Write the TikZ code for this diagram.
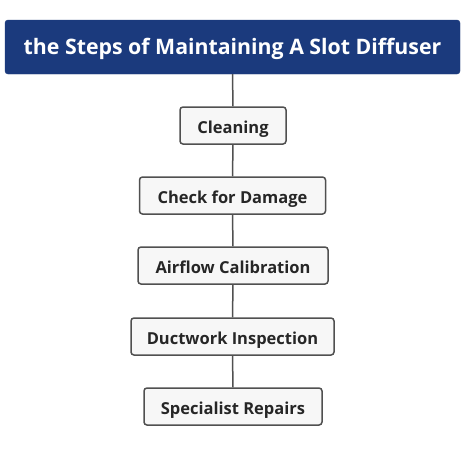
\documentclass[tikz,border=0pt]{standalone}
\usepackage{fontspec}
\setmainfont{Open Sans}[BoldFont={* Bold}]
\definecolor{titleblue}{HTML}{1B3A7D}
\definecolor{boxfill}{HTML}{F7F7F7}
\definecolor{boxline}{HTML}{505050}
\begin{document}
\begin{tikzpicture}[x=1pt,y=-1pt,
  stepbox/.style={draw=boxline, line width=1.5pt, fill=boxfill, rounded corners=3pt,
    minimum height=37pt, inner sep=0pt, text height=15pt, text depth=0pt,
    font=\fontsize{16.5}{18}\selectfont\bfseries, text=black!85},
  titlebox/.style={fill=titleblue, draw=titleblue, rounded corners=3pt, minimum width=455pt,
    minimum height=54pt, inner sep=0pt, text height=14.6pt, text depth=0pt,
    font=\fontsize{21.3}{23}\selectfont\bfseries, text=white},
  link/.style={draw=boxline, line width=1.5pt}]
\useasboundingbox (0,0) rectangle (474,459);
\fill[white] (0,0) rectangle (474,459);
\node[titlebox] (t) at (232.5,47) {the Steps of Maintaining A Slot Diffuser};
\node[stepbox, minimum width=106pt] (s1) at (233,125.5) {Cleaning};
\node[stepbox, minimum width=186pt] (s2) at (232.5,195.5) {Check for Damage};
\node[stepbox, minimum width=190pt] (s3) at (233,265.5) {Airflow Calibration};
\node[stepbox, minimum width=203pt] (s4) at (232.5,336.5) {Ductwork Inspection};
\node[stepbox, minimum width=178pt] (s5) at (233,406.5) {Specialist Repairs};
\draw[link] (t.south) -- (s1.north);
\draw[link] (s1.south) -- (s2.north);
\draw[link] (s2.south) -- (s3.north);
\draw[link] (s3.south) -- (s4.north);
\draw[link] (s4.south) -- (s5.north);
\end{tikzpicture}
\end{document}
